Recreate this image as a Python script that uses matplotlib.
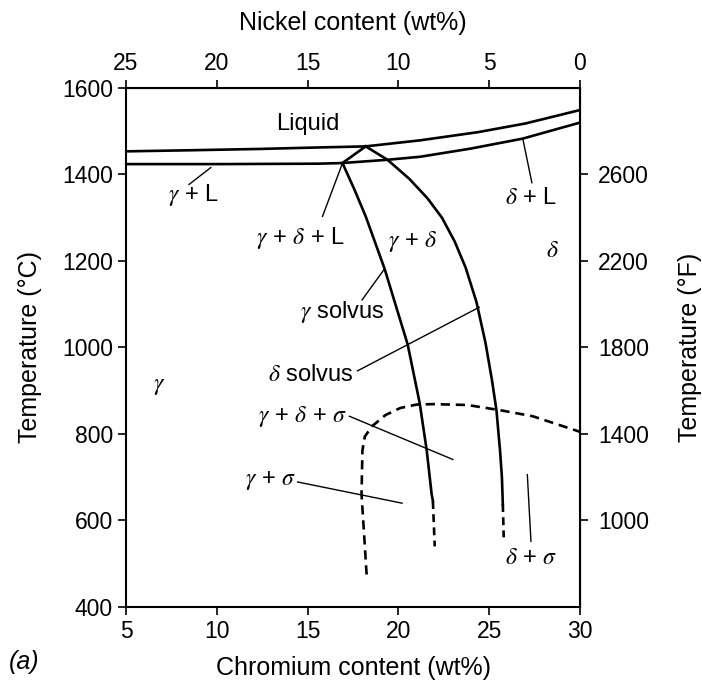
import numpy as np
import matplotlib
matplotlib.use("Agg")
import matplotlib.pyplot as plt

plt.rcParams['font.family'] = ['Liberation Sans', 'DejaVu Sans']
plt.rcParams['mathtext.fontset'] = 'stix'

# phase boundaries (Cr wt%, temperature C)
liquidus_cr = [5, 8.5, 12.3, 15.6, 18.2, 21.2, 24.4, 27, 30]
liquidus_t  = [1453.5, 1456, 1459, 1462.5, 1465, 1479, 1498, 1518, 1549]

solidus_cr = [5, 10, 15.6, 16.92, 19.4, 21.2, 24, 26.85, 30]
solidus_t  = [1424, 1424, 1425, 1426.5, 1434, 1441, 1460, 1483, 1520]

tri_cr = [16.92, 18.2]
tri_t  = [1426.5, 1465]

gsolv_cr = [16.92, 17.57, 18.2, 19.24, 20.51, 21.17, 21.56, 21.83, 21.9]
gsolv_t  = [1426.5, 1366, 1303, 1182, 1007, 872, 762, 661, 645]
gsolv_dash_cr = [21.9, 22.0]
gsolv_dash_t  = [645, 540]

dsolv_cr = [18.2, 19.4, 20.6, 21.6, 22.4, 23.1, 23.7, 24.3, 24.8, 25.15, 25.4, 25.6, 25.7, 25.75]
dsolv_t  = [1465, 1434, 1390, 1345, 1300, 1245, 1185, 1105, 1010, 925, 855, 760, 700, 638]
dsolv_dash_cr = [25.75, 25.8]
dsolv_dash_t  = [638, 561]

sigma_cr = [18.25, 17.97, 18.02, 18.15, 18.55, 19.3, 20.1, 21.0, 21.9, 23.8, 25.6, 27.4, 30]
sigma_t  = [475, 661, 762, 794, 818, 844, 860, 868, 869, 867, 855, 841, 805]

# leader lines: (cr0, t0, cr1, t1)
leaders = [
    (8.47, 1377, 9.67, 1416),
    (27.35, 1381, 26.85, 1483),
    (15.82, 1303, 16.92, 1426),
    (18.0, 1110, 19.24, 1182),
    (17.75, 946, 24.45, 1093),
    (17.3, 841, 23.0, 741),
    (14.45, 689, 20.2, 640),
    (27.1, 706, 27.3, 552),
]

# region labels: (text, cr, t, ha)
labels = [
    ("Liquid", 15.03, 1517, "center"),
    (r"$\gamma$ + L", 8.7, 1352, "center"),
    (r"$\delta$ + L", 27.3, 1345, "center"),
    (r"$\delta$", 28.5, 1222, "center"),
    (r"$\gamma$ + $\delta$ + L", 14.6, 1252, "center"),
    (r"$\gamma$ + $\delta$", 20.8, 1245, "center"),
    (r"$\gamma$ solvus", 16.9, 1082, "center"),
    (r"$\delta$ solvus", 17.5, 937, "right"),
    (r"$\gamma$", 6.85, 911, "center"),
    (r"$\gamma$ + $\delta$ + $\sigma$", 17.15, 841, "right"),
    (r"$\gamma$ + $\sigma$", 14.35, 692, "right"),
    (r"$\delta$ + $\sigma$", 27.3, 514, "center"),
]

cr_ticks = [5, 10, 15, 20, 25, 30]
t_ticks = [400, 600, 800, 1000, 1200, 1400, 1600]
ni_ticks = [25, 20, 15, 10, 5, 0]
f_ticks = [1000, 1400, 1800, 2200, 2600]

fs = 17      # region labels
tfs = 16.5   # tick labels
afs = 18     # axis titles
lw = 1.9

fig = plt.figure(figsize=(7.02, 6.8), dpi=100)
ax = fig.add_axes([0.1795, 0.1074, 0.6467, 0.7632])

ax.plot(liquidus_cr, liquidus_t, color='black', lw=lw)
ax.plot(solidus_cr, solidus_t, color='black', lw=lw)
ax.plot(tri_cr, tri_t, color='black', lw=lw)
ax.plot(gsolv_cr, gsolv_t, color='black', lw=lw)
ax.plot(gsolv_dash_cr, gsolv_dash_t, color='black', lw=lw, ls=(0, (3, 2)))
ax.plot(dsolv_cr, dsolv_t, color='black', lw=lw)
ax.plot(dsolv_dash_cr, dsolv_dash_t, color='black', lw=lw, ls=(0, (3, 2)))
ax.plot(sigma_cr, sigma_t, color='black', lw=lw, ls=(0, (3.5, 2.2)))

for x0, y0, x1, y1 in leaders:
    ax.plot([x0, x1], [y0, y1], color='black', lw=1.0)

for txt, x, y, ha in labels:
    ax.text(x, y, txt, fontsize=fs, ha=ha, va='center')

ax.set_xlim(5, 30)
ax.set_ylim(400, 1600)
ax.set_xticks(cr_ticks)
ax.set_yticks(t_ticks)
ax.tick_params(direction='out', length=6, width=1.2, labelsize=tfs)
for s in ax.spines.values():
    s.set_linewidth(1.5)

ax.set_xlabel("Chromium content (wt%)", fontsize=afs, labelpad=9)
ax.set_ylabel("Temperature (°C)", fontsize=afs, labelpad=14)

top = ax.secondary_xaxis('top', functions=(lambda c: 30 - c, lambda n: 30 - n))
top.set_xticks(ni_ticks)
top.tick_params(direction='out', length=6, width=1.2, labelsize=tfs)
top.set_xlabel("Nickel content (wt%)", fontsize=afs, labelpad=16)

right = ax.secondary_yaxis('right', functions=(lambda c: 2 * c - 200, lambda f: (f + 200) / 2))
right.set_yticks(f_ticks)
right.tick_params(direction='out', length=6, width=1.2, labelsize=tfs, pad=7)
right.set_ylabel("Temperature (°F)", fontsize=afs, labelpad=21)

fig.text(0.013, 0.026, "(a)", fontsize=afs, style='italic', ha='left', va='center')

fig.savefig("out.png", dpi=100)
